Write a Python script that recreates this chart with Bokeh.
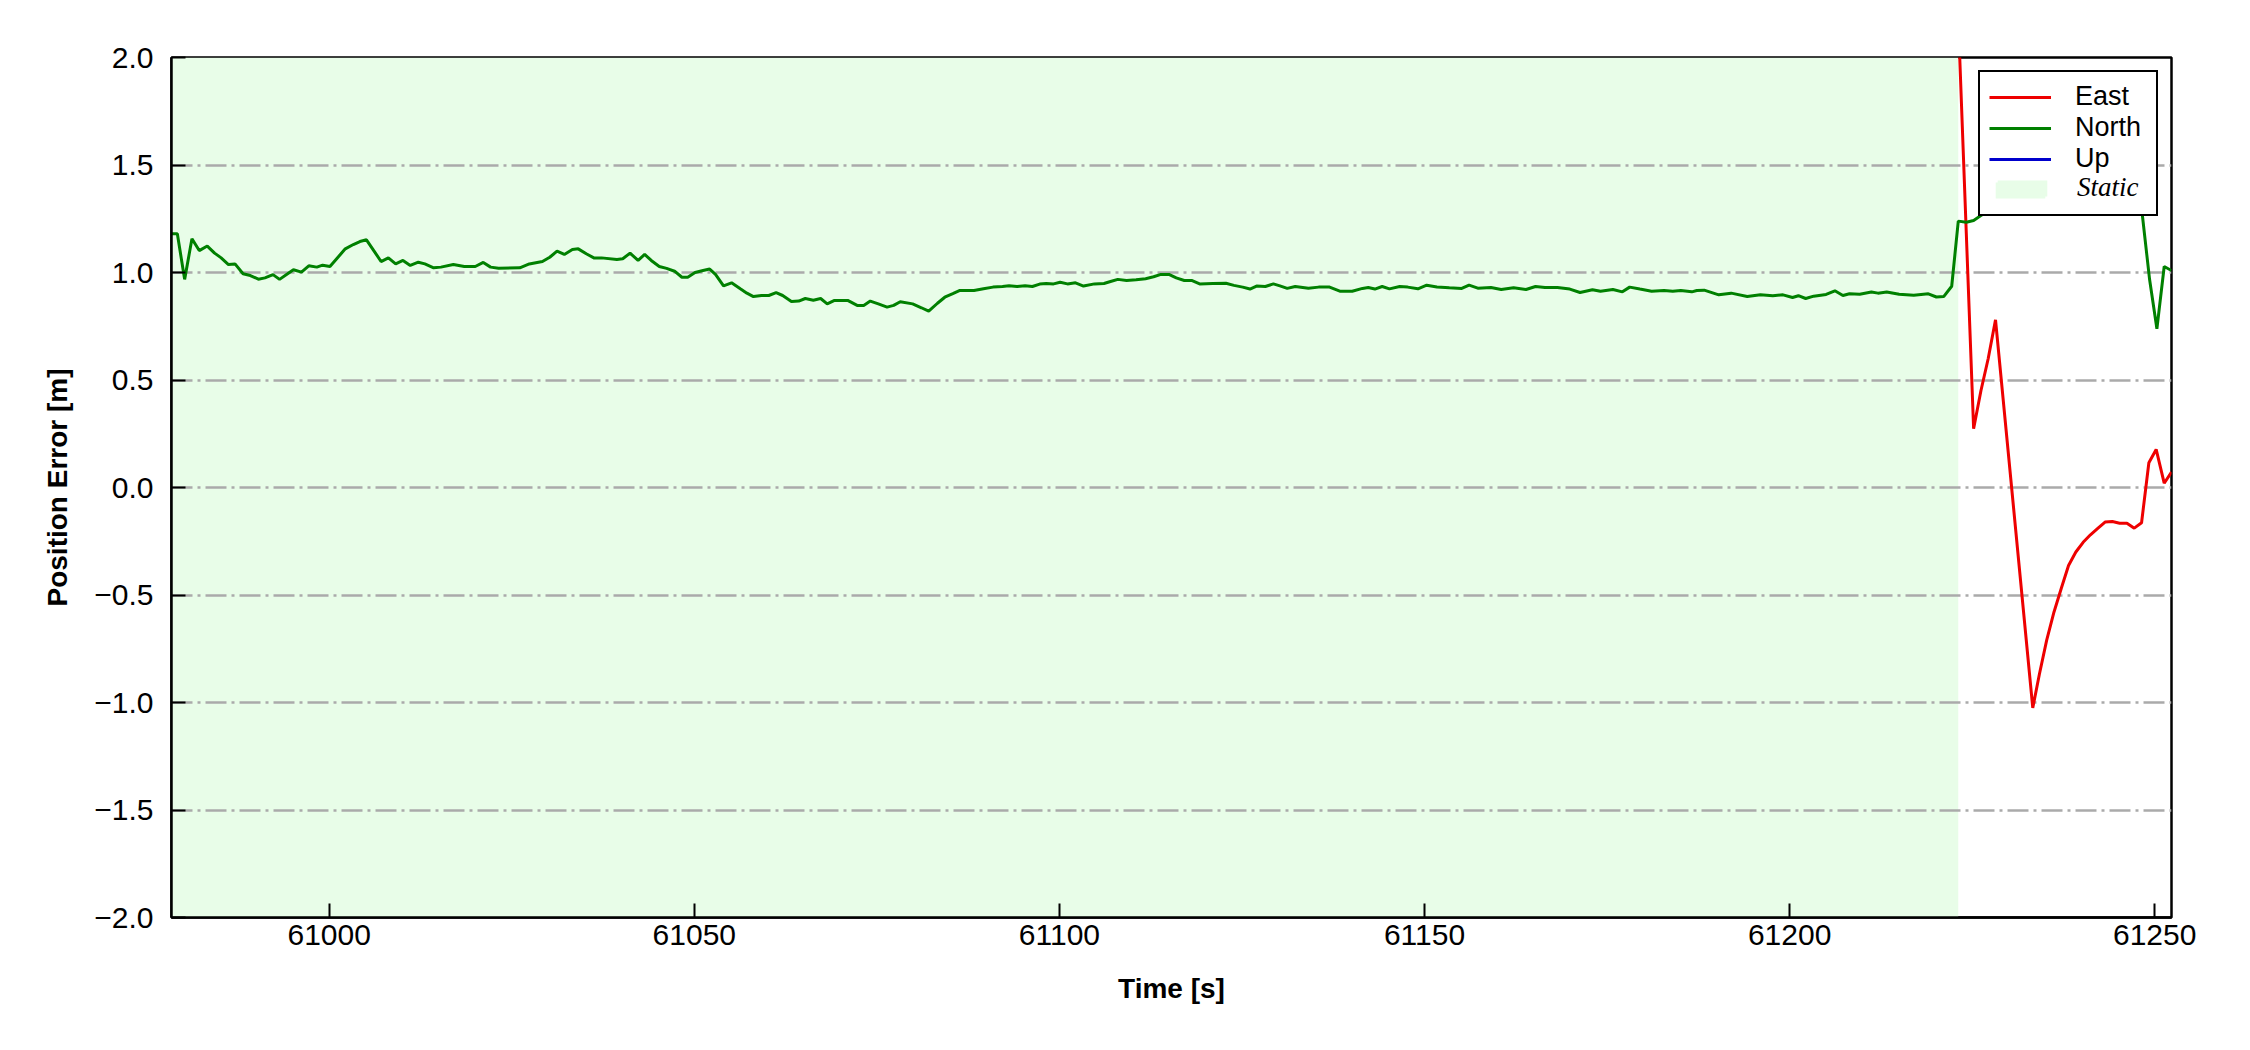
import numpy as np
from bokeh.plotting import figure
from bokeh.models import (Range1d, FixedTicker, CustomJSTickFormatter, Legend,
                          LegendItem)
from bokeh.embed import file_html
from bokeh.resources import INLINE

# ---------------- data ----------------
time_north = [
    60978.4, 60979.2, 60980.2, 60981.2, 60982.2, 60983.3, 60984.3, 60985.2, 60986.2, 60987.1,
    60988.2, 60989.2, 60990.3, 60991.2, 60992.3, 60993.2, 60994.3, 60995.1, 60996.2, 60997.2,
    60998.3, 60999.1, 61000.1, 61001.2, 61002.2, 61003.3, 61004.2, 61005.1, 61006.1, 61007.1,
    61008.1, 61009.1, 61010.1, 61011.1, 61012.2, 61013.1, 61014.3, 61015.3, 61017.0, 61018.5,
    61020.0, 61021.1, 61022.1, 61023.2, 61026.1, 61027.4, 61029.2, 61030.2, 61031.2, 61032.2,
    61033.3, 61034.1, 61035.2, 61036.3, 61037.3, 61039.4, 61040.2, 61041.2, 61042.3, 61043.2,
    61044.1, 61045.2, 61046.2, 61047.3, 61048.3, 61049.1, 61050.1, 61051.2, 61052.1, 61052.9,
    61054.0, 61055.1, 61056.3, 61057.2, 61058.1, 61059.2, 61060.2, 61061.2, 61062.1, 61063.3,
    61064.3, 61065.2, 61066.3, 61067.3, 61068.2, 61069.2, 61071.0, 61072.3, 61073.2, 61074.1,
    61075.2, 61076.4, 61077.3, 61078.2, 61079.9, 61081.1, 61082.1, 61083.3, 61084.3, 61085.4,
    61086.3, 61088.3, 61089.6, 61090.9, 61092.2, 61093.1, 61094.2, 61095.3, 61096.3, 61097.3,
    61098.2, 61099.2, 61100.1, 61101.1, 61102.2, 61103.3, 61104.8, 61106.1, 61107.0, 61108.0,
    61109.2, 61110.5, 61111.8, 61112.9, 61113.9, 61115.0, 61116.0, 61117.1, 61118.1, 61119.2,
    61121.0, 61122.8, 61123.9, 61125.1, 61126.1, 61127.0, 61128.2, 61129.3, 61130.2, 61131.2,
    61132.3, 61134.1, 61135.5, 61137.0, 61138.4, 61140.1, 61141.5, 61142.3, 61143.2, 61144.2,
    61145.2, 61146.6, 61147.7, 61149.1, 61150.3, 61151.7, 61153.4, 61155.1, 61156.1, 61157.3,
    61159.1, 61160.5, 61162.2, 61163.9, 61165.2, 61166.5, 61168.2, 61169.9, 61171.3, 61173.0,
    61174.1, 61175.8, 61177.1, 61178.1, 61179.5, 61181.1, 61182.8, 61184.0, 61185.1, 61186.6,
    61187.3, 61188.3, 61190.3, 61192.0, 61194.2, 61196.0, 61197.7, 61199.1, 61200.4, 61201.2,
    61202.2, 61203.3, 61205.0, 61206.2, 61207.3, 61208.2, 61209.6, 61211.2, 61212.1, 61213.3,
    61215.0, 61217.0, 61219.0, 61220.1, 61221.1, 61222.2, 61223.1, 61224.2, 61225.2, 61226.2,
    61228.0, 61231.0, 61235.0, 61240.0, 61245.0, 61247.2, 61248.2, 61249.3, 61250.3, 61251.3,
    61252.3,
]
north = [
    1.180, 1.180, 0.968, 1.157, 1.102, 1.123, 1.090, 1.068, 1.037, 1.040,
    0.994, 0.986, 0.969, 0.975, 0.990, 0.968, 0.994, 1.013, 1.002, 1.031,
    1.025, 1.034, 1.028, 1.071, 1.110, 1.130, 1.144, 1.152, 1.102, 1.051,
    1.068, 1.040, 1.056, 1.033, 1.048, 1.040, 1.022, 1.025, 1.037, 1.028,
    1.028, 1.047, 1.025, 1.020, 1.022, 1.040, 1.051, 1.071, 1.099, 1.084,
    1.107, 1.110, 1.087, 1.067, 1.068, 1.061, 1.064, 1.090, 1.056, 1.084,
    1.056, 1.028, 1.019, 1.006, 0.978, 0.978, 1.000, 1.009, 1.016, 0.991,
    0.938, 0.952, 0.924, 0.904, 0.888, 0.893, 0.893, 0.906, 0.893, 0.865,
    0.867, 0.879, 0.871, 0.879, 0.854, 0.870, 0.870, 0.847, 0.847, 0.867,
    0.854, 0.839, 0.847, 0.864, 0.854, 0.836, 0.820, 0.857, 0.885, 0.902,
    0.916, 0.916, 0.924, 0.932, 0.935, 0.938, 0.935, 0.938, 0.935, 0.946,
    0.949, 0.947, 0.955, 0.947, 0.952, 0.937, 0.947, 0.949, 0.958, 0.968,
    0.963, 0.966, 0.971, 0.980, 0.991, 0.991, 0.975, 0.963, 0.963, 0.947,
    0.949, 0.950, 0.940, 0.932, 0.923, 0.937, 0.935, 0.947, 0.938, 0.926,
    0.935, 0.927, 0.932, 0.932, 0.913, 0.913, 0.926, 0.930, 0.923, 0.935,
    0.924, 0.935, 0.932, 0.924, 0.941, 0.933, 0.929, 0.926, 0.941, 0.927,
    0.930, 0.921, 0.929, 0.921, 0.935, 0.930, 0.930, 0.923, 0.907, 0.920,
    0.913, 0.921, 0.910, 0.932, 0.923, 0.913, 0.916, 0.913, 0.916, 0.910,
    0.916, 0.918, 0.896, 0.904, 0.888, 0.896, 0.892, 0.896, 0.884, 0.892,
    0.879, 0.890, 0.898, 0.915, 0.893, 0.901, 0.899, 0.909, 0.904, 0.909,
    0.899, 0.894, 0.901, 0.886, 0.888, 0.936, 1.239, 1.234, 1.242, 1.265,
    1.300, 1.320, 1.330, 1.340, 1.330, 1.330, 1.300, 0.967, 0.738, 1.028,
    1.009,
]

time_east = [
    61223.2, 61224.2, 61225.2, 61226.2, 61227.2, 61228.2, 61233.3, 61234.2, 61235.2, 61236.2,
    61237.2, 61238.2, 61239.2, 61240.2, 61241.2, 61242.2, 61243.2, 61244.2, 61245.2, 61246.2,
    61247.2, 61248.2, 61249.2, 61250.2, 61251.3, 61252.3,
]
east = [
    2.090, 1.180, 0.273, 0.450, 0.600, 0.780, -1.025, -0.870, -0.711, -0.580,
    -0.470, -0.363, -0.300, -0.255, -0.220, -0.190, -0.161, -0.158, -0.166, -0.166,
    -0.189, -0.164, 0.115, 0.177, 0.020, 0.072,
]

# Up is not visible anywhere in the plotted window; only its legend entry shows
time_up = [np.nan]
up = [np.nan]

static_span = [60978.4, 61223.1]

x_ticks = [61000, 61050, 61100, 61150, 61200, 61250]
y_ticks = [-2.0, -1.5, -1.0, -0.5, 0.0, 0.5, 1.0, 1.5, 2.0]

# ---------------- figure ----------------
FRAME_W, FRAME_H = 2000, 860
all_t = time_north + time_east
p = figure(frame_width=FRAME_W, frame_height=FRAME_H,
           min_border_left=171, min_border_right=63,
           min_border_top=57, min_border_bottom=117,
           x_range=Range1d(min(all_t), max(all_t)),
           y_range=Range1d(y_ticks[0], y_ticks[-1]),
           output_backend="svg", toolbar_location=None,
           background_fill_color="white", border_fill_color="white")

r_static = p.quad(left=[static_span[0]], right=[static_span[1]],
                  bottom=[y_ticks[0]], top=[y_ticks[-1]],
                  fill_color="#e8fde8", line_color=None, level="image")

r_east = p.line(time_east, east, line_color="#ee0000", line_width=3)
r_north = p.line(time_north, north, line_color="#008000", line_width=3)
r_up = p.line(np.array(time_up), np.array(up), line_color="#0000cc", line_width=3)

# grid
p.xgrid.visible = False
p.ygrid.grid_line_color = "#aaaaaa"
p.ygrid.grid_line_dash = "21 5 3 5"
p.ygrid.grid_line_width = 2.5

# axes
p.xaxis.ticker = FixedTicker(ticks=x_ticks)
p.yaxis.ticker = FixedTicker(ticks=y_ticks)
p.xaxis.formatter = CustomJSTickFormatter(code="return tick.toFixed(0);")
p.yaxis.formatter = CustomJSTickFormatter(
    code="return (tick < 0 ? '\u2212' : '') + Math.abs(tick).toFixed(1);")

p.xaxis.axis_label = "Time [s]"
p.yaxis.axis_label = "Position Error [m]"

for ax in (p.xaxis[0], p.yaxis[0]):
    ax.major_tick_in = 14
    ax.major_tick_out = 0
    ax.minor_tick_in = 0
    ax.minor_tick_out = 0
    ax.major_tick_line_width = 2
    ax.major_tick_line_color = "black"
    ax.axis_line_width = 2.5
    ax.axis_line_color = "black"
    ax.major_label_text_font = "Liberation Sans"
    ax.major_label_text_font_size = "30px"
    ax.major_label_text_color = "black"
    ax.axis_label_text_font = "Liberation Sans"
    ax.axis_label_text_font_size = "28px"
    ax.axis_label_text_font_style = "bold"
    ax.axis_label_text_color = "black"

p.xaxis.major_label_standoff = 7
p.yaxis.major_label_standoff = 18
p.xaxis.axis_label_standoff = 25
p.yaxis.axis_label_standoff = 18

p.outline_line_color = "black"
p.outline_line_width = 2.5
p.outline_line_alpha = 1

# legend (box + East/North/Up + Static patch)
LG_MARGIN, LG_PAD, LG_GW, LG_STAND, LG_LW, LG_ROW = 13, 9, 62, 24, 72, 31
legend = Legend(items=[
    LegendItem(label="East", renderers=[r_east]),
    LegendItem(label="North", renderers=[r_north]),
    LegendItem(label="Up", renderers=[r_up]),
    LegendItem(label=" ", renderers=[r_static]),
], location="top_right")
legend.margin = LG_MARGIN
legend.padding = LG_PAD
legend.spacing = 0
legend.glyph_width = LG_GW
legend.glyph_height = 20
legend.label_height = LG_ROW
legend.label_width = LG_LW
legend.label_standoff = LG_STAND
legend.label_text_font = "Liberation Sans"
legend.label_text_font_size = "27px"
legend.label_text_color = "black"
legend.border_line_color = "black"
legend.border_line_width = 2.5
legend.border_line_alpha = 1
legend.background_fill_color = "white"
legend.background_fill_alpha = 1
p.add_layout(legend)

# second, borderless legend drawing the italic serif "Static" entry on row 4
box_w = 2 * LG_PAD + LG_GW + LG_STAND + LG_LW
x_glyph = FRAME_W - LG_MARGIN - box_w + LG_PAD
row4_bottom_from_top = LG_MARGIN + LG_PAD + 4 * LG_ROW
legend2 = Legend(items=[LegendItem(label="Static", renderers=[r_static])],
                 location=(x_glyph, FRAME_H - row4_bottom_from_top))
legend2.margin = 0
legend2.padding = 0
legend2.spacing = 0
legend2.glyph_width = LG_GW
legend2.glyph_height = 20
legend2.label_height = LG_ROW
legend2.label_standoff = LG_STAND
legend2.label_text_font = "Liberation Serif"
legend2.label_text_font_style = "italic"
legend2.label_text_font_size = "27px"
legend2.label_text_color = "black"
legend2.border_line_color = None
legend2.background_fill_alpha = 0
p.add_layout(legend2)

open("out.html", "w").write(file_html(p, INLINE))
